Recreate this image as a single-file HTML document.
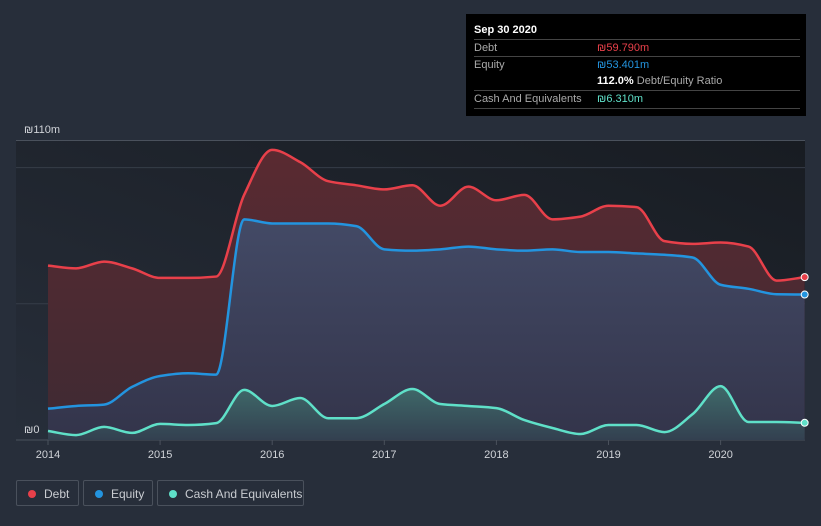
<!DOCTYPE html>
<html><head><meta charset="utf-8"><style>
html,body{margin:0;padding:0;background:#272e3a;}
body{width:821px;height:526px;overflow:hidden;position:relative;font-family:"Liberation Sans",sans-serif;}
#tip{position:absolute;left:466px;top:14px;width:340px;height:102px;background:#000;color:#fff;font-size:11px;}
.row{position:absolute;left:8px;right:6px;border-top:1px solid #444;height:17px;line-height:17px;color:#aaa;}
.row span{position:absolute;left:123px;}
.leg{position:absolute;top:480px;height:26px;border:1px solid #4a515c;border-radius:2px;color:#c9ccd1;font-size:12px;line-height:26px;box-sizing:border-box;}
.leg i{position:absolute;left:11px;top:9px;width:8px;height:8px;border-radius:50%;}
.leg b{font-weight:normal;position:absolute;left:27px;}
</style></head><body>
<svg id="chart" width="821" height="526" style="position:absolute;left:0;top:0">
<defs>
<linearGradient id="bg" x1="0" y1="1" x2="1" y2="0"><stop offset="0" stop-color="#272e3a"/><stop offset="1" stop-color="#181c22"/></linearGradient>
<linearGradient id="gd" x1="0" y1="0" x2="0" y2="1"><stop offset="0" stop-color="#5a2a31"/><stop offset="1" stop-color="#3e2a33"/></linearGradient>
<linearGradient id="ge" x1="0" y1="0" x2="0" y2="1"><stop offset="0" stop-color="#434a66"/><stop offset="1" stop-color="#33344a"/></linearGradient>
<linearGradient id="gc" x1="0" y1="0" x2="0" y2="1"><stop offset="0" stop-color="#3f6a6a"/><stop offset="1" stop-color="#334050"/></linearGradient>
</defs>
<rect x="16" y="140" width="789" height="300" fill="url(#bg)"/>
<g id="grid"></g>
<g id="series"></g>
<g id="axis"></g>
</svg>
<div id="tip">
<div style="position:absolute;left:8px;top:10px;font-weight:bold;font-size:11px">Sep 30 2020</div>
<div class="row" style="top:25px">Debt<span style="color:#e8404a">₪59.790m</span></div>
<div class="row" style="top:42px">Equity<span style="color:#2394df">₪53.401m</span></div>
<div class="row" style="top:59px;border-top:none"><span style="color:#fff"><b>112.0%</b> <em style="font-style:normal;color:#aaa">Debt/Equity Ratio</em></span></div>
<div class="row" style="top:76px;border-bottom:1px solid #444">Cash And Equivalents<span style="color:#5fe0c8">₪6.310m</span></div>
</div>
<div class="leg" style="left:16px;width:63px"><i style="background:#e8404a"></i><b>Debt</b></div>
<div class="leg" style="left:83px;width:70px"><i style="background:#2394df"></i><b>Equity</b></div>
<div class="leg" style="left:157px;width:147px"><i style="background:#5fe0c8"></i><b>Cash And Equivalents</b></div>
<script>
const dates=[2014,2014.25,2014.5,2014.75,2015,2015.25,2015.5,2015.75,2016,2016.25,2016.5,2016.75,2017,2017.25,2017.5,2017.75,2018,2018.25,2018.5,2018.75,2019,2019.25,2019.5,2019.75,2020,2020.25,2020.5,2020.75];
const debt=[64,63,65.5,63,59.5,59.5,60,90,106.5,102,95,93.5,92,93.5,86,93,88,90,81,82,86,85.5,73,72,72.5,71,58.5,59.79];
const equity=[11.5,12.5,13,19.5,23.5,24.5,24,81,79.5,79.5,79.5,78.5,70,69.5,70,71,70,69.5,70,69,69,68.5,68,67,57,55.5,53.5,53.401];
const cash=[3.3,1.8,4.8,2.6,5.9,5.5,6.2,18.4,12.5,15.4,8,8,13.2,18.7,13.2,12.5,11.7,7.3,4.4,2.2,5.5,5.5,2.9,9.5,19.8,6.6,6.6,6.31];
const yTicks=[0,50,100];
const xTicks=[2014,2015,2016,2017,2018,2019,2020];
const X=d=>48+(d-2014)*112.1;
const Y=v=>440-v*2.724;
const NS='http://www.w3.org/2000/svg';
function mk(t,a,p){const e=document.createElementNS(NS,t);for(const k in a)e.setAttribute(k,a[k]);p.appendChild(e);return e;}
function path(vals){const p=dates.map((d,i)=>[X(d),Y(vals[i])]);const n=p.length;const m=[];const s=[];
for(let i=0;i<n-1;i++)s.push((p[i+1][1]-p[i][1])/(p[i+1][0]-p[i][0]));
for(let i=0;i<n;i++){if(i==0)m.push(s[0]);else if(i==n-1)m.push(s[n-2]);else m.push(s[i-1]*s[i]<=0?0:2/(1/s[i-1]+1/s[i]));}
let d='M'+p[0][0]+','+p[0][1];
for(let i=0;i<n-1;i++){const h=(p[i+1][0]-p[i][0])/3;d+=' C'+(p[i][0]+h)+','+(p[i][1]+m[i]*h)+' '+(p[i+1][0]-h)+','+(p[i+1][1]-m[i+1]*h)+' '+p[i+1][0]+','+p[i+1][1];}
return d;}
const g=document.getElementById('grid'),sg=document.getElementById('series'),ax=document.getElementById('axis');
mk('line',{x1:16,x2:805,y1:140.5,y2:140.5,stroke:'#4a515c',},g);
yTicks.forEach(v=>{const l=mk('line',{x1:16,x2:805,y1:Y(v),y2:Y(v),stroke:v==0?'#4a515c':'#363d48'},g);

});
const t1=mk('text',{x:24,y:133,fill:'#d0d3d8','font-size':11},ax);t1.textContent='₪110m';


const t0=mk('text',{x:24,y:433,fill:'#d0d3d8','font-size':11},ax);t0.textContent='₪0';


xTicks.forEach(v=>{const l=mk('line',{x1:X(v),x2:X(v),y1:440,y2:445,stroke:'#4a515c'},ax);


const t=mk('text',{x:X(v),y:458,fill:'#d0d3d8','font-size':11,'text-anchor':'middle'},ax);t.textContent=v;

});
const base=' L'+X(dates[dates.length-1])+','+Y(0)+' L'+X(dates[0])+','+Y(0)+' Z';
[[debt,'url(#gd)','#e8404a','debt'],[equity,'url(#ge)','#2394df','equity'],[cash,'url(#gc)','#5fe0c8','cash']].forEach(([v,f,c,n])=>{
const d=path(v);
const a=mk('path',{d:d+base,fill:f},sg);


const l=mk('path',{d:d,fill:'none',stroke:c,'stroke-width':2.5},sg);


const pt=mk('circle',{cx:X(dates[dates.length-1]),cy:Y(v[v.length-1]),r:3.5,fill:c,stroke:'#fff','stroke-width':1},sg);


});
</script>
</body></html>
